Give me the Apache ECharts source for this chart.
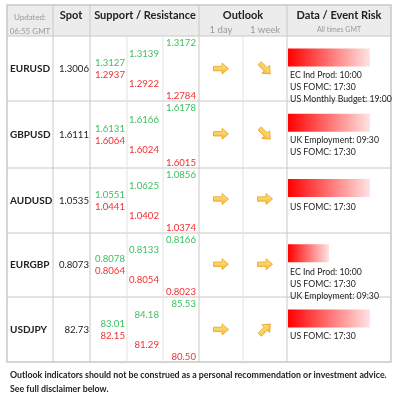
<!DOCTYPE html><html><head><meta charset="utf-8">
<script src="https://cdn.jsdelivr.net/npm/echarts@6/dist/echarts.min.js"></script>
<style>html,body{margin:0;padding:0;background:#fff}#c{width:400px;height:404px}</style></head><body><div id="c"></div>
<script>
const pairs=['EURUSD','GBPUSD','AUDUSD','EURGBP','USDJPY'];
const spot=['1.3006','1.6111','1.0535','0.8073','82.73'];
const res1=['1.3127','1.6131','1.0551','0.8078','83.01'];
const sup1=['1.2937','1.6064','1.0441','0.8064','82.15'];
const res2=['1.3139','1.6166','1.0625','0.8133','84.18'];
const sup2=['1.2922','1.6024','1.0402','0.8054','81.29'];
const res3=['1.3172','1.6178','1.0856','0.8166','85.53'];
const sup3=['1.2784','1.6015','1.0374','0.8023','80.50'];
const outlookDay=[0,0,0,0,0];      // arrow angle, 0 = right
const outlookWeek=[-45,-45,0,0,45];
const riskLevel=[1,1,1,0.5,1];
const events=[['EC Ind Prod: 10:00','US FOMC: 17:30','US Monthly Budget: 19:00'],['UK Employment: 09:30','US FOMC: 17:30'],['US FOMC: 17:30'],['EC Ind Prod: 10:00','US FOMC: 17:30','UK Employment: 09:30'],['US FOMC: 17:30']];

const F='Lato, "Open Sans", sans-serif';
const rowTops=[36,101,168,233,297,362];
const cols=[7,53,90,127,163,199,243,287,391];
const G=[];
const line='#c8c8c8';
G.push({type:'rect',shape:{x:cols[0],y:5,width:cols[8]-cols[0],height:31},style:{fill:'#ececec',stroke:null}});
G.push({type:'rect',shape:{x:cols[0],y:5,width:cols[8]-cols[0],height:357},style:{fill:null,stroke:line,lineWidth:1.5}});
rowTops.slice(0,5).forEach(y=>G.push({type:'line',shape:{x1:cols[0],y1:y,x2:cols[8],y2:y},style:{stroke:line,lineWidth:1}}));
[1,2,5,7].forEach(i=>G.push({type:'line',shape:{x1:cols[i],y1:5,x2:cols[i],y2:362},style:{stroke:line,lineWidth:1}}));
[3,4,6].forEach(i=>G.push({type:'line',shape:{x1:cols[i],y1:36,x2:cols[i],y2:362},style:{stroke:'#e2e2e2',lineWidth:1}}));
function T(x,y,t,o){G.push({type:'text',x,y,style:Object.assign({text:t,font:'9.6px '+F,fill:'#222',align:'center',verticalAlign:'middle'},o||{})});}
T(30,17,'Updated:',{font:'8px '+F,fill:'#999'});
T(30,31,'06:55 GMT',{font:'8px '+F,fill:'#999'});
T(71,15,'Spot',{font:'bold 11px '+F});
T(145,15,'Support / Resistance',{font:'bold 11px '+F});
T(243,15,'Outlook',{font:'bold 11px '+F});
T(221,30,'1 day',{font:'9.5px '+F,fill:'#999'});
T(265,30,'1 week',{font:'9.5px '+F,fill:'#999'});
T(339,15,'Data / Event Risk',{font:'bold 11px '+F});
T(339,30,'All times GMT',{font:'7px '+F,fill:'#999'});
const green='#3cc060',red='#f03030';
pairs.forEach((p,i)=>{
  const t=rowTops[i],b=rowTops[i+1],c=(t+b)/2;
  T(10,c,p,{align:'left',font:'bold 10px '+F});
  T(89,c,spot[i],{align:'right'});
  T(125,c-6,res1[i],{align:'right',fill:green});
  T(125,c+6,sup1[i],{align:'right',fill:red});
  T(159,c-15,res2[i],{align:'right',fill:green});
  T(159,c+15,sup2[i],{align:'right',fill:red});
  T(196,t+7,res3[i],{align:'right',fill:green});
  T(196,b-5,sup3[i],{align:'right',fill:red});
  events[i].forEach((e,k)=>T(290,t+39+k*12,e,{align:'left',font:'8.7px '+F}));
});
T(10,375,'Outlook indicators should not be construed as a personal recommendation or investment advice.',{align:'left',font:'bold 8.8px '+F});
T(10,389,'See full disclaimer below.',{align:'left',font:'bold 8.8px '+F});

const arrow='path://M0,3 L8,3 L8,0 L14,5 L8,10 L8,7 L0,7 Z';
const arrowStyle={color:{type:'linear',x:0,y:0,x2:0,y2:1,colorStops:[{offset:0,color:'#ffe070'},{offset:1,color:'#f5a800'}]},borderColor:'#e09000',borderWidth:0.8};
const chart=echarts.init(document.getElementById('c'),null,{renderer:'canvas'});
chart.setOption({
  animation:false,
  grid:[{left:199,width:88,top:36,height:326},{left:288,width:82,top:25,height:326}],
  xAxis:[{type:'category',data:['1 day','1 week'],gridIndex:0,show:false},{type:'value',min:0,max:1,gridIndex:1,show:false}],
  yAxis:[{type:'category',data:pairs,inverse:true,gridIndex:0,show:false},{type:'category',data:pairs,inverse:true,gridIndex:1,show:false}],
  series:[
    {type:'scatter',xAxisIndex:0,yAxisIndex:0,symbol:arrow,symbolSize:[15,11],itemStyle:arrowStyle,
     data:outlookDay.map((a,i)=>({value:['1 day',pairs[i]],symbolRotate:a}))},
    {type:'scatter',xAxisIndex:0,yAxisIndex:0,symbol:arrow,symbolSize:[15,11],itemStyle:arrowStyle,
     data:outlookWeek.map((a,i)=>({value:['1 week',pairs[i]],symbolRotate:a}))},
    {type:'bar',xAxisIndex:1,yAxisIndex:1,barWidth:18,data:riskLevel,
     itemStyle:{color:{type:'linear',x:0,y:0,x2:1,y2:0,colorStops:[{offset:0,color:'#ff0000'},{offset:1,color:'#ffe4e4'}]}}}
  ],
  graphic:G
});
</script></body></html>
